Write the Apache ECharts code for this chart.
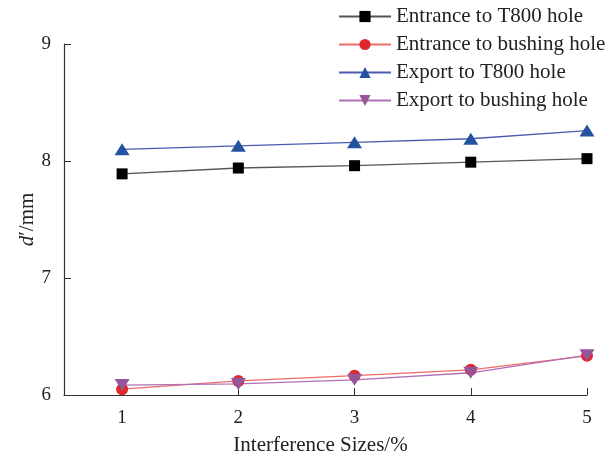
<!DOCTYPE html>
<html>
<head>
<meta charset="utf-8">
<script src="https://cdn.jsdelivr.net/npm/echarts@6/dist/echarts.min.js"></script>
<style>
  html, body { margin: 0; padding: 0; background: #fff; }
  #chart { width: 609px; height: 461px; }
</style>
</head>
<body>
<div id="chart"></div>
<script>
// Interference size (%) on the x axis
const sizes = [1, 2, 3, 4, 5];
const yTicks = [6, 7, 8, 9];

// Measured hole diameters d' (mm)
const entranceT800 = [7.89, 7.94, 7.96, 7.99, 8.02];
const entranceBushing = [6.05, 6.12, 6.165, 6.215, 6.335];
const exportT800 = [8.10, 8.13, 8.16, 8.19, 8.26];
const exportBushing = [6.085, 6.095, 6.13, 6.19, 6.34];

const seriesNames = [
  'Entrance to T800 hole',
  'Entrance to bushing hole',
  'Export to T800 hole',
  'Export to bushing hole'
];

const FONT = '"Liberation Serif", "Times New Roman", serif';

function pairs(vals) {
  return sizes.map((x, i) => [x, vals[i]]);
}

function makeSeries(name, vals, lineColor, markColor, symbol, size, rotate) {
  return {
    name: name,
    type: 'line',
    data: pairs(vals),
    symbol: symbol,
    symbolSize: size,
    symbolRotate: rotate || 0,
    showAllSymbol: true,
    lineStyle: { color: lineColor, width: 1.3 },
    itemStyle: { color: markColor, borderWidth: 0 },
    emphasis: { disabled: true },
    animation: false,
    z: 3
  };
}

const chart = echarts.init(document.getElementById('chart'), null, { renderer: 'canvas' });

chart.setOption({
  backgroundColor: '#ffffff',
  animation: false,
  grid: { left: 64, right: 22, top: 44, bottom: 64 },
  legend: {
    orient: 'vertical',
    left: 338,
    top: 6,
    padding: 0,
    itemWidth: 52,
    itemHeight: 14,
    itemGap: 7,
    textStyle: { fontFamily: FONT, fontSize: 21, color: '#222', lineHeight: 21 },
    data: seriesNames
  },
  xAxis: {
    type: 'value',
    min: 0.5,
    max: 5,
    name: 'Interference Sizes/%',
    nameLocation: 'middle',
    nameGap: 40,
    nameMoveOverlap: false,
    nameTextStyle: { fontFamily: FONT, fontSize: 21, color: '#222', padding: [0, 10, 0, 0] },
    axisLine: { lineStyle: { color: '#333', width: 1.2 } },
    axisTick: { inside: true, length: 7, customValues: sizes, lineStyle: { color: '#333' } },
    axisLabel: { customValues: sizes, fontFamily: FONT, fontSize: 19, color: '#222', margin: 14 },
    splitLine: { show: false }
  },
  yAxis: {
    type: 'value',
    min: 6,
    max: 9,
    interval: 1,
    name: '{i|d}′/mm',
    nameLocation: 'middle',
    nameGap: 26,
    nameMoveOverlap: false,
    nameRotate: 90,
    nameTextStyle: {
      fontFamily: FONT, fontSize: 21, color: '#222',
      rich: { i: { fontFamily: FONT, fontSize: 21, fontStyle: 'italic', color: '#222' } }
    },
    axisLine: { show: true, lineStyle: { color: '#333', width: 1.2 } },
    axisTick: { show: true, inside: true, length: 7, lineStyle: { color: '#333' } },
    axisLabel: { fontFamily: FONT, fontSize: 19, color: '#222', margin: 13 },
    splitLine: { show: false }
  },
  series: [
    makeSeries(seriesNames[0], entranceT800, '#555555', '#000000', 'rect', 11),
    makeSeries(seriesNames[1], entranceBushing, '#f06a6a', '#e0282c', 'circle', 12),
    makeSeries(seriesNames[2], exportT800, '#4a5cb0', '#2452a0', 'triangle', [15, 12]),
    makeSeries(seriesNames[3], exportBushing, '#b070b8', '#94559a', 'triangle', [15, 12], 180)
  ]
});
</script>
</body>
</html>
